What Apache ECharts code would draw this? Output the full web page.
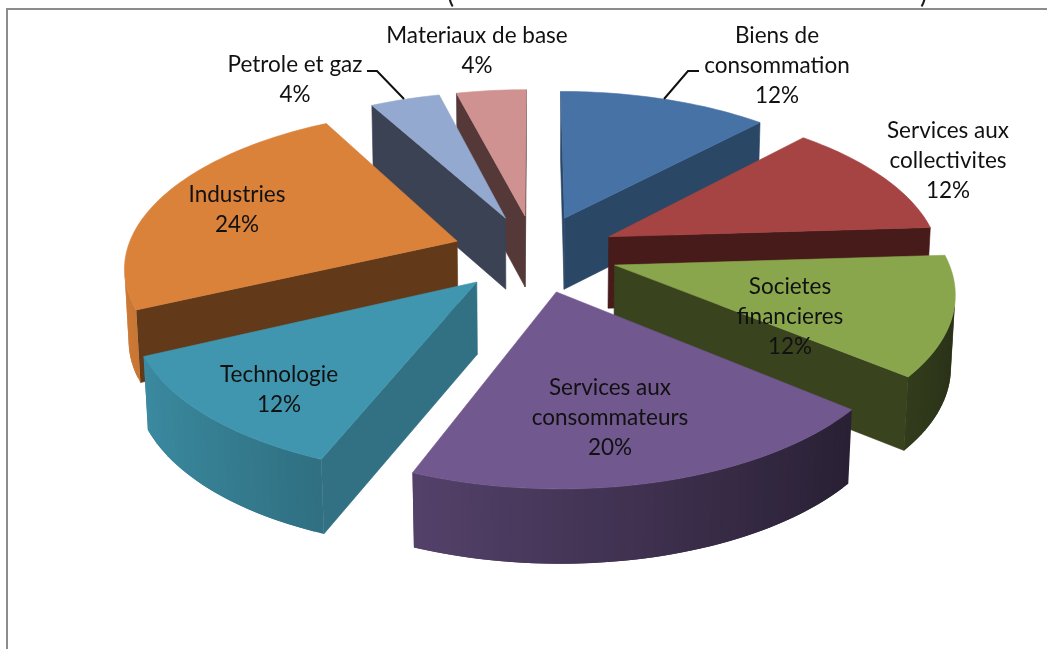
<!DOCTYPE html>
<html>
<head>
<meta charset="utf-8">
<title>Repartition sectorielle</title>
<style>
  html, body { margin: 0; padding: 0; background: #fff; }
  #chart { width: 1047px; height: 649px; }
</style>
<script src="https://cdn.jsdelivr.net/npm/echarts@6/dist/echarts.min.js"></script>
</head>
<body>
<div id="chart"></div>
<script>
const labelLines = [
  ['Biens de', 'consommation'],
  ['Services aux', 'collectivites'],
  ['Societes', 'financieres'],
  ['Services aux', 'consommateurs'],
  ['Technologie'],
  ['Industries'],
  ['Petrole et gaz'],
  ['Materiaux de base']
];
const shares = [12, 12, 12, 20, 12, 24, 4, 4];

const topColors = ['#4672a6', '#a54442', '#8aa64d', '#71588f', '#4096ae', '#da813a', '#93a9cf', '#d09291'];
const faceColors = ['#2a4766', '#471b19', '#39431e', '#2b2139', '#317183', '#623a1a', '#3a4254', '#553938'];

// label centre x, first line y
const labelAnchors = [[777, 36], [948, 131], [790, 287], [610, 388], [279, 375], [237, 195], [295, 65], [477, 36]];

// projection of the tilted pie, fitted on the picture
const cx = 535, cy = 253;
const scaleX = 331, scaleY = 155, depth = 72;
const persp = 0.148, perspZ = 0.01, explode = 0.25;

function project(x, y, z) {
  const w = 1 + persp * y + perspZ * z;
  return [cx + scaleX * x / w, cy - scaleY * y / w + depth * z * Math.pow(w, -0.4)];
}

function shade(hex, f) {
  const c = echarts.color.parse(hex);
  return 'rgb(' + [0, 1, 2].map(i => Math.round(c[i] * f)).join(',') + ')';
}

function signedArea(pts) {
  let s = 0;
  pts.forEach((p, i) => {
    const q = pts[(i + 1) % pts.length];
    s += p[0] * q[1] - q[0] * p[1];
  });
  return s / 2;
}

const total = shares.reduce((a, b) => a + b, 0);
const sliceAngles = [];
let cumul = 0;
shares.forEach(v => {
  sliceAngles.push([cumul / total * 2 * Math.PI, (cumul + v) / total * 2 * Math.PI]);
  cumul += v;
});

function slicePoint(i, a, onRim, z) {
  const mid = (sliceAngles[i][0] + sliceAngles[i][1]) / 2;
  const r = onRim ? 1 : 0;
  return project(explode * Math.sin(mid) + r * Math.sin(a), explode * Math.cos(mid) + r * Math.cos(a), z);
}

function poly(points, color) {
  return {
    type: 'polygon',
    shape: { points: points },
    style: { fill: color, stroke: color, lineWidth: 0.6 }
  };
}

function renderSlice(params, api) {
  const i = api.value(0);
  const a0 = sliceAngles[i][0], a1 = sliceAngles[i][1];
  const children = [];
  const steps = Math.ceil((a1 - a0) / (Math.PI / 120));
  const da = (a1 - a0) / steps;

  // radial cut faces, only the ones turned to the viewer
  const f0 = [slicePoint(i, a0, false, 0), slicePoint(i, a0, true, 0), slicePoint(i, a0, true, 1), slicePoint(i, a0, false, 1)];
  const f1 = [slicePoint(i, a1, true, 0), slicePoint(i, a1, false, 0), slicePoint(i, a1, false, 1), slicePoint(i, a1, true, 1)];
  [f0, f1].forEach(f => {
    if (signedArea(f) < 0) children.push(poly(f, faceColors[i]));
  });

  // outer wall, darker to the right; each band runs under the next to hide seams
  for (let s = 0; s < steps; s++) {
    const a = a0 + da * s;
    const b = a0 + da * (s + 1);
    const over = Math.min(b + da, a1);
    const q = [slicePoint(i, a, true, 0), slicePoint(i, b, true, 0), slicePoint(i, b, true, 1), slicePoint(i, a, true, 1)];
    if (signedArea(q) < 0) {
      const band = [slicePoint(i, a, true, 0), slicePoint(i, over, true, 0), slicePoint(i, over, true, 1), slicePoint(i, a, true, 1)];
      children.push({
        type: 'polygon',
        shape: { points: band },
        style: { fill: shade(topColors[i], 0.62 - 0.33 * Math.sin((a + b) / 2)) }
      });
    }
  }

  const top = [slicePoint(i, a0, false, 0)];
  for (let s = 0; s <= steps; s++) {
    top.push(slicePoint(i, a0 + da * s, true, 0));
  }
  children.push(poly(top, topColors[i]));

  return { type: 'group', children: children };
}

// back slices first
const drawOrder = shares.map((_, i) => i).sort((p, q) => {
  const m = k => (sliceAngles[k][0] + sliceAngles[k][1]) / 2;
  return Math.cos(m(q)) - Math.cos(m(p));
});

const textFont = 'Lato, "Open Sans", sans-serif';

const labels = shares.map((v, i) => ({
  type: 'text',
  z: 10,
  style: {
    x: labelAnchors[i][0],
    y: labelAnchors[i][1] - 15,
    text: labelLines[i].concat(v + '%').join('\n'),
    font: '22.5px ' + textFont,
    lineHeight: 30,
    fill: '#111',
    align: 'center',
    verticalAlign: 'top'
  }
}));

const chart = echarts.init(document.getElementById('chart'));
chart.setOption({
  animation: false,
  backgroundColor: '#fff',
  xAxis: { show: false },
  yAxis: { show: false },
  series: [{
    type: 'custom',
    coordinateSystem: 'none',
    silent: true,
    renderItem: renderSlice,
    data: drawOrder.map(i => [i, shares[i]])
  }],
  graphic: labels.concat([
    { type: 'polyline', z: 9, shape: { points: [[7, 649], [7, 9], [1047, 9]] }, style: { stroke: '#8c8c8c', lineWidth: 2, fill: null } },
    { type: 'polyline', z: 9, shape: { points: [[664, 99], [688, 71], [699, 71]] }, style: { stroke: '#111', lineWidth: 2, fill: null } },
    { type: 'polyline', z: 9, shape: { points: [[367, 71], [377, 71], [404, 99]] }, style: { stroke: '#111', lineWidth: 2, fill: null } },
    { type: 'text', z: 9, style: { x: 447, y: -19, text: '(', font: '27px ' + textFont, fill: '#1c1c1c' } },
    { type: 'text', z: 9, style: { x: 920, y: -19, text: ')', font: '27px ' + textFont, fill: '#1c1c1c' } }
  ])
});
</script>
</body>
</html>
